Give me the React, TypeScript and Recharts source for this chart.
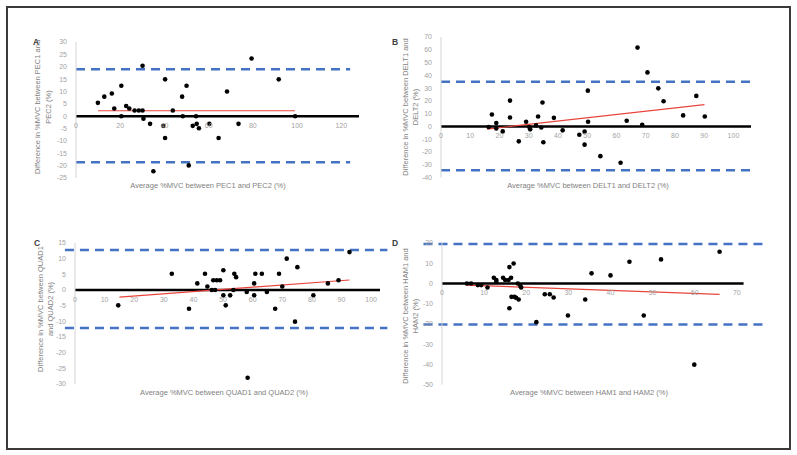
import React from 'react';
import { ScatterChart, Scatter, XAxis, YAxis, ReferenceLine } from 'recharts';

// A - PEC1 vs PEC2
const pecAvg = [9.9, 12.8, 16.2, 17.3, 20.5, 20.5, 22.7, 24.1, 26.5, 28.4, 30.1, 30.1, 30.5, 33.5, 35, 39.5, 40.3, 40.3, 43.8, 48, 48.3, 50, 51, 52.8, 54.3, 54.6, 55.6, 60.3, 64.5, 68.3, 73.5, 79.4, 91.7, 99.1];
const pecDiff = [5.4, 7.9, 9.2, 3.1, 12.3, 0, 4.1, 3.1, 2.3, 2.3, 2.3, 20.4, -1, -3.1, -22.3, -3.9, 14.9, -8.8, 2.3, 7.9, 0, 12.3, -19.9, -3.9, 0, -3.1, -4.9, -3.1, -8.8, 10, -3.1, 23.3, 14.9, 0];
const pecTrend = [[10, 2.2], [99, 2.2]];
const pecLimits = [19, -18.6];
const pecLimitSpan = [0, 124];
const pecXTicks = [0, 20, 40, 60, 80, 100, 120];
const pecYTicks = [-25, -20, -15, -10, -5, 0, 5, 10, 15, 20, 25, 30];

// B - DELT1 vs DELT2
const deltAvg = [16.3, 17.4, 18.9, 18.9, 21.1, 23.6, 23.6, 26.6, 29.1, 30.2, 30.5, 32.5, 33.2, 34.3, 34.7, 35, 38.6, 41.6, 47.3, 49.1, 49.1, 50.2, 50.3, 54.5, 61.4, 63.5, 67.2, 68.8, 70.6, 74.3, 76.1, 82.8, 87.3, 90.2];
const deltDiff = [-0.5, 9.3, 2.6, -1.6, -3.9, 20.2, 7, -11.7, 3.6, -0.5, -2.3, 0.8, 7.8, -0.8, 18.7, -12.4, 6.7, -3.1, -6.5, -4.1, -14.3, 28, 3.6, -23.3, -28.5, 4.4, 61.7, 1.3, 42.3, 29.8, 19.7, 8.6, 23.9, 7.8];
const deltTrend = [[15.7, -2.1], [90.1, 17.1]];
const deltLimits = [35, -34.3];
const deltLimitSpan = [0, 106];
const deltXTicks = [0, 10, 20, 30, 40, 50, 60, 70, 80, 90, 100];
const deltYTicks = [-40, -30, -20, -10, 0, 10, 20, 30, 40, 50, 60, 70];

// C - QUAD1 vs QUAD2
const quadAvg = [14.6, 32.7, 38.5, 41.3, 43.9, 44.7, 46.2, 46.7, 47.3, 47.9, 49, 50.1, 50.1, 50.9, 52.4, 53.5, 53.8, 54.4, 58, 58.3, 60.5, 60.5, 60.9, 63.1, 64.8, 67.6, 68.9, 70, 71.5, 74.3, 75.1, 80.5, 85.4, 89, 92.7];
const quadDiff = [-4.9, 5.2, -6, 2.1, 5.2, 1.1, 0, 3.1, 0, 3.1, 3.1, 6.3, -1.7, -4.9, -1.7, 0, 5.2, 4.1, -0.6, -28, 2.1, -1.7, 5.2, 5.2, -0.6, -6, 5.2, 1.1, 10, -10.1, 7.3, -1.7, 2.1, 3.1, 12.1];
const quadTrend = [[15, -2.3], [92.7, 3.2]];
const quadLimits = [12.8, -12.1];
const quadLimitSpan = [-3.4, 105.5];
const quadXTicks = [0, 10, 20, 30, 40, 50, 60, 70, 80, 90, 100];
const quadYTicks = [-30, -25, -20, -15, -10, -5, 0, 5, 10, 15];

// D - HAM1 vs HAM2
const hamAvg = [5.9, 6.9, 8.5, 9.3, 10.8, 12.3, 12.9, 12.9, 14.5, 15, 15.8, 16, 16, 16.4, 16.5, 17, 17.2, 17.6, 18, 18.2, 18.6, 18.8, 22.4, 24.4, 25.6, 26.5, 29.9, 34, 35.5, 40, 44.5, 47.9, 52, 59.9, 65.9];
const hamDiff = [0, 0, -0.8, -0.8, -2, 2.8, 1.7, 0.8, 2.8, 1.7, 1.7, 8.1, -12.2, 2.8, -6.6, 9.9, -6.6, -7.1, 0, -7.9, -1.3, -2, -19.1, -5.3, -5.3, -6.9, -15.8, -7.9, 5, 4, 10.7, -15.8, 11.9, -40.1, 15.7];
const hamTrend = [[5.8, -0.8], [65.9, -5.4]];
const hamLimits = [19.5, -20.3];
const hamLimitSpan = [-4.4, 77];
const hamXTicks = [0, 10, 20, 30, 40, 50, 60, 70];
const hamYTicks = [-50, -40, -30, -20, -10, 0, 10, 20];

const FONT = '"Liberation Sans", Arial, sans-serif';
const TICK_COLOR = '#a3a3a3';
const TITLE_COLOR = '#7f7f7f';

const Y_AXIS_W = 40;
const X_AXIS_H = 20;
const M = { top: 10, right: 30, bottom: 10, left: 10 };

interface PanelProps {
  avg: number[];
  diff: number[];
  trend: number[][];
  limits: number[];
  limitSpan: number[];
  xTicks: number[];
  yTicks: number[];
  xMax: number;
  plot: { l: number; t: number; r: number; b: number };
}

const Dot = (props: any) => <circle cx={props.cx} cy={props.cy} r={2.3} fill="#000" />;

const Panel: React.FC<PanelProps> = ({ avg, diff, trend, limits, limitSpan, xTicks, yTicks, xMax, plot }) => {
  const points = avg.map((x, i) => ({ x, y: diff[i] }));
  const yMin = yTicks[0];
  const yMax = yTicks[yTicks.length - 1];
  const plotH = plot.b - plot.t;
  const zeroOffset = (plotH * (0 - yMin)) / (yMax - yMin);
  const width = plot.r - plot.l + Y_AXIS_W + M.left + M.right;
  const height = plotH + X_AXIS_H + M.top + M.bottom;

  const renderXTick = (p: any) => (
    <text x={p.x} y={p.y - zeroOffset + 11.5} textAnchor="middle" fill={TICK_COLOR} fontSize={7} fontFamily={FONT}>
      {p.payload.value}
    </text>
  );

  return (
    <div style={{ position: 'absolute', left: plot.l - Y_AXIS_W - M.left, top: plot.t - M.top }}>
      <ScatterChart width={width} height={height} margin={M} style={{ overflow: 'visible' }}>
        <XAxis
          type="number"
          dataKey="x"
          domain={[0, xMax]}
          ticks={xTicks}
          interval={0}
          allowDataOverflow
          axisLine={false}
          tickLine={false}
          tickSize={0}
          tickMargin={0}
          height={X_AXIS_H}
          tick={renderXTick}
        />
        <YAxis
          type="number"
          dataKey="y"
          domain={[yMin, yMax]}
          ticks={yTicks}
          interval={0}
          allowDataOverflow
          width={Y_AXIS_W}
          axisLine={{ stroke: '#d4d4d4' }}
          tickLine={false}
          tickSize={0}
          tickMargin={9}
          tick={{ fill: TICK_COLOR, fontSize: 7, fontFamily: FONT }}
        />
        <ReferenceLine y={0} stroke="#000" strokeWidth={2.5} />
        {limits.map((v, i) => (
          <ReferenceLine
            key={i}
            segment={[{ x: limitSpan[0], y: v }, { x: limitSpan[1], y: v }]}
            stroke="#4472C4"
            strokeWidth={2.5}
            strokeDasharray="9 6"
            ifOverflow="visible"
          />
        ))}
        <ReferenceLine
          segment={[{ x: trend[0][0], y: trend[0][1] }, { x: trend[1][0], y: trend[1][1] }]}
          stroke="#e8453c"
          strokeWidth={1.2}
          ifOverflow="visible"
        />
        <Scatter data={points} shape={Dot} isAnimationActive={false} />
      </ScatterChart>
    </div>
  );
};

const YTitle = ({ x1, x2, cy, line1, line2 }: { x1: number; x2: number; cy: number; line1: string; line2: string }) => (
  <>
    <text transform={`translate(${x1},${cy}) rotate(-90)`} textAnchor="middle" dominantBaseline="central" fontSize={7.5} fill={TITLE_COLOR} fontFamily={FONT}>
      {line1}
    </text>
    <text transform={`translate(${x2},${cy}) rotate(-90)`} textAnchor="middle" dominantBaseline="central" fontSize={7.5} fill={TITLE_COLOR} fontFamily={FONT}>
      {line2}
    </text>
  </>
);

const XTitle = ({ x, y, text }: { x: number; y: number; text: string }) => (
  <text x={x} y={y} textAnchor="middle" dominantBaseline="central" fontSize={7.5} fill={TITLE_COLOR} fontFamily={FONT}>
    {text}
  </text>
);

const Letter = ({ x, y, text }: { x: number; y: number; text: string }) => (
  <text x={x} y={y} textAnchor="middle" dominantBaseline="central" fontSize={8.5} fontWeight={600} fill="#404040" fontFamily={FONT}>
    {text}
  </text>
);

export default function App() {
  return (
    <div style={{ position: 'absolute', left: 0, top: 0, width: 797, height: 455, background: '#fff' }}>
      <div style={{ position: 'absolute', left: 6, top: 6, width: 781, height: 440, border: '2px solid #3a3a3a' }} />
      <Panel avg={pecAvg} diff={pecDiff} trend={pecTrend} limits={pecLimits} limitSpan={pecLimitSpan} xTicks={pecXTicks} yTicks={pecYTicks} xMax={128} plot={{ l: 76, t: 42, r: 359, b: 178 }} />
      <Panel avg={deltAvg} diff={deltDiff} trend={deltTrend} limits={deltLimits} limitSpan={deltLimitSpan} xTicks={deltXTicks} yTicks={deltYTicks} xMax={106} plot={{ l: 441, t: 36.5, r: 751, b: 177 }} />
      <Panel avg={quadAvg} diff={quadDiff} trend={quadTrend} limits={quadLimits} limitSpan={quadLimitSpan} xTicks={quadXTicks} yTicks={quadYTicks} xMax={103} plot={{ l: 75, t: 243.3, r: 380, b: 384.3 }} />
      <Panel avg={hamAvg} diff={hamDiff} trend={hamTrend} limits={hamLimits} limitSpan={hamLimitSpan} xTicks={hamXTicks} yTicks={hamYTicks} xMax={71.6} plot={{ l: 441.7, t: 243.3, r: 743.3, b: 385 }} />
      <svg width={797} height={455} style={{ position: 'absolute', left: 0, top: 0, pointerEvents: 'none' }}>
        <Letter x={36} y={42} text="A" />
        <Letter x={395} y={42} text="B" />
        <Letter x={37} y={243} text="C" />
        <Letter x={395} y={243} text="D" />
        <YTitle x1={37} x2={48} cy={107} line1="Difference in %MVC between PEC1 and" line2="PEC2 (%)" />
        <YTitle x1={405} x2={415} cy={107} line1="Difference in %MVC between DELT1 and" line2="DELT2 (%)" />
        <YTitle x1={40} x2={50.5} cy={309} line1="Difference in %MVC between QUAD1" line2="and QUAD2 (%)" />
        <YTitle x1={405} x2={415} cy={316} line1="Difference in %MVC between HAM1 and" line2="HAM2 (%)" />
        <XTitle x={208} y={185} text="Average %MVC between PEC1 and PEC2 (%)" />
        <XTitle x={588} y={185} text="Average %MVC between DELT1 and DELT2 (%)" />
        <XTitle x={224} y={392} text="Average %MVC between QUAD1 and QUAD2 (%)" />
        <XTitle x={589} y={392} text="Average %MVC between HAM1 and HAM2 (%)" />
      </svg>
    </div>
  );
}
